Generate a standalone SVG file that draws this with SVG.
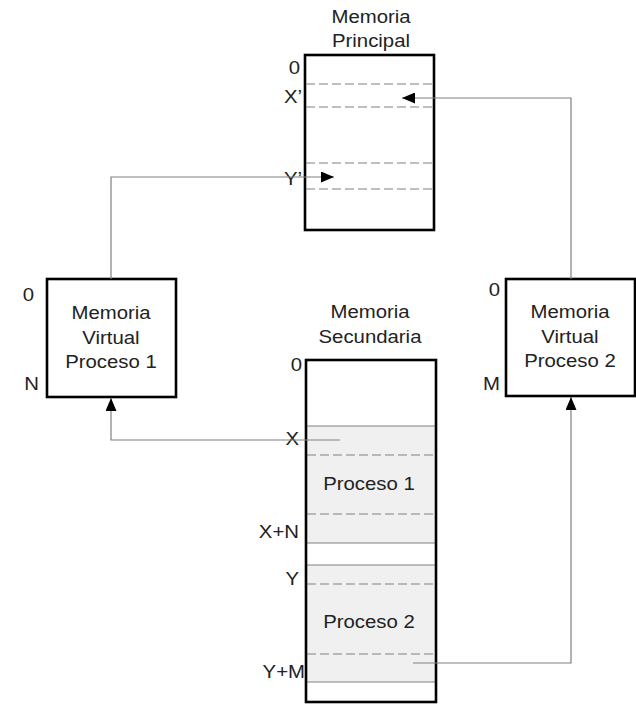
<svg xmlns="http://www.w3.org/2000/svg" width="636" height="704" viewBox="0 0 636 704">
  <defs>
    <marker id="arrow" viewBox="0 0 13 11" refX="13" refY="5.5" markerWidth="13" markerHeight="11" markerUnits="userSpaceOnUse" orient="auto">
      <path d="M0,0 L13,5.5 L0,11 Z" fill="#000"/>
    </marker>
  </defs>
  <style>
    .box { fill: #fff; stroke: #000; stroke-width: 2.6; }
    .frame { fill: none; stroke: #000; stroke-width: 2.6; }
    .seg { fill: #f0f0f0; stroke: none; }
    .edge { stroke: #808080; stroke-width: 1.2; fill: none; }
    .dash { stroke: #808080; stroke-width: 1.2; stroke-dasharray: 9 4; fill: none; }
    .conn { stroke: #808080; stroke-width: 1.2; fill: none; }
    text { font-family: "Liberation Sans", Arial, sans-serif; font-size: 18.5px; fill: #222; }
    .c { text-anchor: middle; }
    .r { text-anchor: end; }
  </style>

  <rect width="636" height="704" fill="#fff"/>

  <!-- Memoria Principal -->
  <g id="memoria-principal">
    <text class="c" transform="translate(371,23) scale(1.1,1)">Memoria</text>
    <text class="c" transform="translate(371,47) scale(1.1,1)">Principal</text>
    <rect class="box" x="305" y="55" width="129" height="175"/>
    <line class="dash" x1="306" y1="84" x2="433" y2="84"/>
    <line class="dash" x1="306" y1="107" x2="433" y2="107"/>
    <line class="dash" x1="306" y1="163" x2="433" y2="163"/>
    <line class="dash" x1="306" y1="189" x2="433" y2="189"/>
    <text class="r" transform="translate(300,74) scale(1.1,1)">0</text>
    <text class="r" transform="translate(302,103) scale(1.1,1)">X’</text>
    <text class="r" transform="translate(302,185) scale(1.1,1)">Y’</text>
  </g>

  <!-- Memoria Virtual Proceso 1 -->
  <g id="memoria-virtual-1">
    <rect class="box" x="47" y="279" width="129" height="118"/>
    <text class="c" transform="translate(111,319) scale(1.1,1)">Memoria</text>
    <text class="c" transform="translate(111,344) scale(1.1,1)">Virtual</text>
    <text class="c" transform="translate(111,368) scale(1.1,1)">Proceso 1</text>
    <text class="r" transform="translate(34,301) scale(1.1,1)">0</text>
    <text class="r" transform="translate(39,390) scale(1.1,1)">N</text>
  </g>

  <!-- Memoria Virtual Proceso 2 -->
  <g id="memoria-virtual-2">
    <rect class="box" x="506" y="279" width="129" height="117"/>
    <text class="c" transform="translate(570,318) scale(1.1,1)">Memoria</text>
    <text class="c" transform="translate(570,343) scale(1.1,1)">Virtual</text>
    <text class="c" transform="translate(570,367) scale(1.1,1)">Proceso 2</text>
    <text class="r" transform="translate(500,296) scale(1.1,1)">0</text>
    <text class="r" transform="translate(500,390) scale(1.1,1)">M</text>
  </g>

  <!-- Memoria Secundaria -->
  <g id="memoria-secundaria">
    <text class="c" transform="translate(370,318) scale(1.1,1)">Memoria</text>
    <text class="c" transform="translate(370,343) scale(1.1,1)">Secundaria</text>
    <rect x="306" y="360" width="130" height="342" fill="#fff"/>
    <!-- Proceso 1 block -->
    <rect class="seg" x="306" y="426" width="130" height="117"/>
    <line class="edge" x1="306" y1="426" x2="436" y2="426"/>
    <line class="edge" x1="306" y1="543" x2="436" y2="543"/>
    <line class="dash" x1="307" y1="455" x2="435" y2="455"/>
    <line class="dash" x1="307" y1="514" x2="435" y2="514"/>
    <text class="c" transform="translate(369,490) scale(1.1,1)">Proceso 1</text>
    <!-- Proceso 2 block -->
    <rect class="seg" x="306" y="565" width="130" height="117"/>
    <line class="edge" x1="306" y1="565" x2="436" y2="565"/>
    <line class="edge" x1="306" y1="682" x2="436" y2="682"/>
    <line class="dash" x1="307" y1="584" x2="435" y2="584"/>
    <line class="dash" x1="307" y1="654" x2="435" y2="654"/>
    <text class="c" transform="translate(369,628) scale(1.1,1)">Proceso 2</text>
    <rect class="frame" x="306" y="360" width="130" height="342"/>
    <text class="r" transform="translate(302,371) scale(1.1,1)">0</text>
    <text class="r" transform="translate(299,445) scale(1.1,1)">X</text>
    <text class="r" transform="translate(299,538) scale(1.1,1)">X+N</text>
    <text class="r" transform="translate(299,585) scale(1.1,1)">Y</text>
    <text class="r" transform="translate(305,678) scale(1.1,1)">Y+M</text>
  </g>

  <!-- Connectors -->
  <g id="connectors">
    <polyline class="conn" points="111,279 111,177 334,177" marker-end="url(#arrow)"/>
    <polyline class="conn" points="340,440 111,440 111,398" marker-end="url(#arrow)"/>
    <polyline class="conn" points="413,663 571,663 571,397" marker-end="url(#arrow)"/>
    <polyline class="conn" points="571,279 571,98 402,98" marker-end="url(#arrow)"/>
  </g>
</svg>
